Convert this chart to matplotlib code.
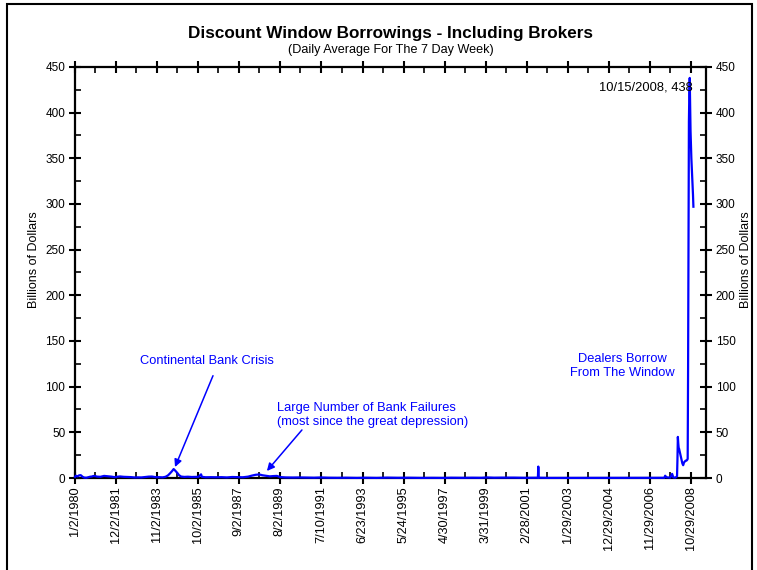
from datetime import datetime
import matplotlib
matplotlib.use("Agg")
import matplotlib.pyplot as plt
import matplotlib.dates as mdates
from matplotlib.patches import Rectangle
from matplotlib.ticker import MultipleLocator, FixedLocator

plt.rcParams['font.family'] = ['Liberation Sans', 'DejaVu Sans']

# weekly average borrowings (billions) at key weeks
dates = [
    "1980-01-02", "1980-01-16", "1980-02-13", "1980-03-12", "1980-04-09", "1980-05-14",
    "1980-06-11", "1980-07-16", "1980-08-13", "1980-09-17", "1980-10-15", "1980-11-12",
    "1980-12-17", "1981-01-14", "1981-03-11", "1981-05-13", "1981-07-15", "1981-09-16",
    "1981-11-11", "1981-12-30", "1982-02-10", "1982-04-14", "1982-06-16", "1982-08-11",
    "1982-10-13", "1982-12-15", "1983-02-09", "1983-04-13", "1983-06-15", "1983-08-10",
    "1983-10-12", "1983-12-14", "1984-02-08", "1984-03-28", "1984-05-09", "1984-06-13",
    "1984-07-18", "1984-08-15", "1984-09-12", "1984-10-17", "1984-11-14", "1984-12-19",
    "1985-02-13", "1985-04-17", "1985-06-19", "1985-08-14", "1985-10-16", "1985-11-27",
    "1985-12-11", "1986-02-12", "1986-05-14", "1986-08-13", "1986-11-12", "1987-02-11",
    "1987-05-13", "1987-08-12", "1987-11-11", "1988-02-10", "1988-04-13", "1988-06-15",
    "1988-08-17", "1988-10-12", "1988-12-14", "1989-02-15", "1989-04-12", "1989-06-14",
    "1989-08-16", "1989-11-15", "1990-03-14", "1990-07-18", "1990-11-14", "1991-03-13",
    "1991-07-17", "1991-11-13", "1992-04-15", "1992-09-16", "1993-03-17", "1993-08-18",
    "1994-02-16", "1994-08-17", "1995-02-15", "1995-08-16", "1996-03-13", "1996-09-18",
    "1997-03-12", "1997-08-13", "1998-02-11", "1998-08-12", "1999-01-13", "1999-04-14",
    "1999-08-18", "2000-01-05", "2000-07-19", "2001-01-17", "2001-06-13", "2001-09-05",
    "2001-09-12", "2001-09-19", "2002-03-13", "2002-09-18", "2003-03-12", "2003-09-17",
    "2004-03-17", "2004-09-15", "2005-03-16", "2005-09-14", "2006-03-15", "2006-09-13",
    "2007-03-14", "2007-08-08", "2007-08-22", "2007-09-12", "2007-11-14", "2007-12-19",
    "2008-01-09", "2008-02-13", "2008-03-12", "2008-03-19", "2008-03-26", "2008-04-02",
    "2008-04-09", "2008-04-16", "2008-04-30", "2008-05-14", "2008-05-28", "2008-06-11",
    "2008-06-25", "2008-07-09", "2008-07-23", "2008-08-06", "2008-08-20", "2008-09-03",
    "2008-09-10", "2008-09-17", "2008-09-24", "2008-10-01", "2008-10-08", "2008-10-15",
    "2008-10-22", "2008-10-29", "2008-11-12", "2008-11-26", "2008-12-10", "2008-12-17",
]
borrowings = [
    1.2, 2.5, 1.8, 2.9, 3.1, 1.2,
    0.4, 0.3, 0.8, 1.4, 1.6, 2.2,
    2.0, 1.5, 1.3, 2.3, 1.9, 1.5,
    0.9, 1.4, 1.7, 1.3, 1.1, 1.0,
    0.6, 0.7, 0.6, 1.0, 1.5, 1.6,
    0.9, 0.9, 0.7, 1.3, 2.8, 5.0,
    7.5, 9.8, 8.0, 5.5, 3.2, 1.6,
    1.2, 1.4, 1.1, 1.2, 1.3, 4.0,
    1.3, 0.8, 0.9, 0.8, 0.9, 0.6,
    1.1, 0.9, 0.8, 1.5, 2.6, 3.5,
    3.9, 3.0, 2.4, 1.8, 2.1, 2.3,
    1.0, 0.6, 0.5, 0.6, 0.4, 0.3,
    0.6, 0.3, 0.2, 0.3, 0.1, 0.3,
    0.1, 0.4, 0.2, 0.3, 0.1, 0.2,
    0.1, 0.3, 0.2, 0.3, 0.2, 0.6,
    0.3, 0.4, 0.4, 0.2, 0.3, 0.3,
    12.5, 0.3, 0.1, 0.1, 0.0, 0.1,
    0.0, 0.1, 0.0, 0.2, 0.1, 0.1,
    0.0, 0.2, 2.5, 0.8, 0.3, 4.5,
    0.6, 0.3, 2.0, 20.0, 45.0, 38.0,
    33.0, 32.0, 28.0, 24.0, 20.0, 16.0,
    14.0, 17.0, 18.0, 19.0, 19.0, 20.0,
    21.0, 120.0, 250.0, 390.0, 420.0, 438.0,
    410.0, 380.0, 350.0, 330.0, 310.0, 297.0,
]
tick_labels = ["1/2/1980", "12/2/1981", "11/2/1983", "10/2/1985", "9/2/1987", "8/2/1989",
               "7/10/1991", "6/23/1993", "5/24/1995", "4/30/1997", "3/31/1999", "2/28/2001",
               "1/29/2003", "12/29/2004", "11/29/2006", "10/29/2008"]

x = [datetime.strptime(d, "%Y-%m-%d") for d in dates]
tick_pos = [mdates.date2num(datetime.strptime(t, "%m/%d/%Y")) for t in tick_labels]
minor_pos = [(a + b) / 2 for a, b in zip(tick_pos[:-1], tick_pos[1:])]

fig = plt.figure(figsize=(7.57, 5.70), dpi=100)
ax = fig.add_axes([0.0991, 0.1614, 0.8335, 0.7211])

ax.plot(x, borrowings, color="#0000FF", lw=1.6, zorder=3, clip_on=False)

ax.set_xlim(tick_pos[0], mdates.date2num(datetime(2009, 7, 20)))
ax.set_ylim(0, 450)
ax.xaxis.set_major_locator(FixedLocator(tick_pos))
ax.xaxis.set_minor_locator(FixedLocator(minor_pos))
ax.set_xticklabels(tick_labels, rotation=90, fontsize=9.2)
ax.yaxis.set_major_locator(MultipleLocator(50))
ax.yaxis.set_minor_locator(MultipleLocator(25))

for s in ax.spines.values():
    s.set_linewidth(1.6)
ax.tick_params(which="major", direction="inout", length=8, width=1.5,
               top=True, right=True, labelright=True, labelsize=8.5, pad=3)
ax.tick_params(which="minor", direction="in", length=4, width=1.2, top=True, right=True)
ax.tick_params(axis="x", which="major", labelsize=9.2, pad=2)

fig.text(0.045, 0.544, "Billions of Dollars", rotation=90, fontsize=9,
         ha="center", va="center")
fig.text(0.986, 0.544, "Billions of Dollars", rotation=90, fontsize=9,
         ha="center", va="center")

fig.text(0.516, 0.941, "Discount Window Borrowings - Including Brokers",
         ha="center", va="center", fontsize=12.3, fontweight="bold")
fig.text(0.516, 0.912, "(Daily Average For The 7 Day Week)",
         ha="center", va="center", fontsize=9.1)

peak = datetime(2008, 10, 15)
ax.annotate("10/15/2008, 438", xy=(peak, 438), xytext=(2, -7), textcoords="offset points",
            ha="right", va="center", fontsize=9.3)

blue = "#0000FF"
arrow = dict(arrowstyle="-|>", color=blue, lw=1.1, shrinkA=0, shrinkB=0, mutation_scale=11)
ax.text(datetime(1986, 3, 8), 128, "Continental Bank Crisis", ha="center", va="center",
        fontsize=9.3, color=blue)
ax.annotate("", xy=(datetime(1984, 9, 7), 12), xytext=(datetime(1986, 6, 19), 112),
            arrowprops=arrow)
ax.text(datetime(1989, 6, 15), 69,
        "Large Number of Bank Failures\n(most since the great depression)",
        ha="left", va="center", fontsize=9.3, color=blue, linespacing=1.3)
ax.annotate("", xy=(datetime(1988, 12, 27), 7.7), xytext=(datetime(1990, 8, 18), 52.6),
            arrowprops=arrow)
ax.text(datetime(2005, 8, 12), 123, "Dealers Borrow\nFrom The Window", ha="center",
        va="center", fontsize=9.3, color=blue, linespacing=1.25)

fig.patches.append(Rectangle((7 / 757, -0.02), 745 / 757, 1.013, transform=fig.transFigure,
                             fill=False, edgecolor="black", lw=1.5))

fig.savefig("out.png", dpi=100)
